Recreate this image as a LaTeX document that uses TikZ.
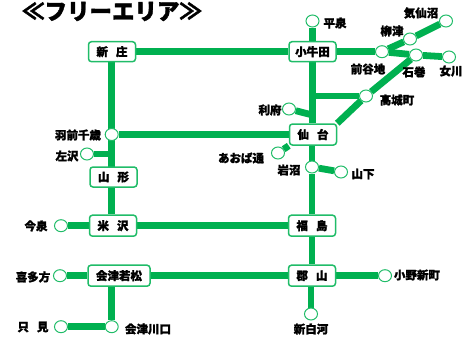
\documentclass[tikz,border=0pt]{standalone}
\usepackage{fontspec}
\setmainfont{Noto Sans CJK JP}[BoldFeatures={FakeBold=1.6}]
\usetikzlibrary{
    shapes.geometric,
    backgrounds
}
\definecolor{linegreen}{HTML}{00B050}
\definecolor{edgegreen}{HTML}{20BC68}
\tikzset{
    hub/.style = {
        rectangle,
        rounded corners=3pt,
        draw=edgegreen,
        line width=1.5pt,
        fill=white,
        minimum width=47pt,
        minimum height=20pt,
        inner sep=0pt,
        font=\fontsize{11.5}{13}\selectfont\bfseries,
        align=center
    },
    stop/.style = {
        ellipse,
        draw=edgegreen,
        line width=1pt,
        fill=white,
        minimum width=13pt,
        minimum height=12pt,
        inner sep=0pt
    },
    stationlabel/.style = {
        inner sep=0pt,
        font=\fontsize{11.5}{13}\selectfont\bfseries
    },
    track/.style = {
        draw=linegreen,
        line width=6.8pt
    }
}

\begin{document}
\begin{tikzpicture}[x=1pt,y=-1pt]
\useasboundingbox (0,0) rectangle (469,340);

\node[stationlabel,font=\fontsize{22.5}{26}\selectfont\bfseries] (title) at (112,11.5) {≪フリーエリア≫};

% main stations
\node[hub] (shinjo) at (112,51.7) {新\hspace{.7em}庄};
\node[hub] (kogota) at (312.5,51.7) {小牛田};
\node[hub,minimum height=21pt] (sendai) at (313,134.5) {仙\hspace{.7em}台};
\node[hub] (yamagata) at (113.5,177) {山\hspace{.7em}形};
\node[hub,minimum height=21pt] (yonezawa) at (113,225.7) {米\hspace{.7em}沢};
\node[hub,minimum height=21pt] (fukushima) at (312,225.7) {福\hspace{.7em}島};
\node[hub,minimum width=62pt,minimum height=21pt] (wakamatsu) at (119,275.7) {会津若松};
\node[hub,minimum height=21pt] (koriyama) at (312,275.7) {郡\hspace{.7em}山};

% small stations
\node[stop] (hiraizumi) at (312.5,21) {};
\node[stop] (maeyachi) at (382,51.7) {};
\node[stop] (yanaizu) at (410,39) {};
\node[stop] (kesennuma) at (446,21) {};
\node[stop] (ishinomaki) at (416,55) {};
\node[stop] (onagawa) at (449,57) {};
\node[stop] (takagi) at (366,96) {};
\node[stop] (rifu) at (289,109) {};
\node[stop] (uzen) at (111.7,134.5) {};
\node[stop] (aterazawa) at (87,154) {};
\node[stop] (aoba) at (278,153) {};
\node[stop] (iwanuma) at (312,167) {};
\node[stop] (yamashita) at (341,172) {};
\node[stop] (imaizumi) at (61,225.7) {};
\node[stop] (kitakata) at (60,275.7) {};
\node[stop] (ono) at (385,275.7) {};
\node[stop] (tadami) at (61,326.7) {};
\node[stop] (kawaguchi) at (111.7,326.7) {};
\node[stop] (shirakawa) at (311,314) {};

% junctions
\coordinate (takagijoin) at (312.5,96);
\coordinate (rifujoin) at (312.5,115);
\coordinate (aterazawajoin) at (111.7,154);

% labels
\node[stationlabel] (hiraizumilabel) at (335,23) {平泉};
\node[stationlabel] (kesennumalabel) at (421,13) {気仙沼};
\node[stationlabel] (yanaizulabel) at (392,31) {柳津};
\node[stationlabel] (maeyachilabel) at (368,69) {前谷地};
\node[stationlabel] (ishinomakilabel) at (414,72) {石巻};
\node[stationlabel] (onagawalabel) at (451,71) {女川};
\node[stationlabel] (takagilabel) at (397,100) {高城町};
\node[stationlabel] (rifulabel) at (270,110) {利府};
\node[stationlabel] (uzenlabel) at (78,135) {羽前千歳};
\node[stationlabel] (aterazawalabel) at (67,156) {左沢};
\node[stationlabel] (aobalabel) at (241,158) {あおば通};
\node[stationlabel] (iwanumalabel) at (289,170) {岩沼};
\node[stationlabel] (yamashitalabel) at (363,174) {山下};
\node[stationlabel] (imaizumilabel) at (36,226) {今泉};
\node[stationlabel] (kitakatalabel) at (33,277) {喜多方};
\node[stationlabel] (onolabel) at (417,275) {小野新町};
\node[stationlabel] (tadamilabel) at (33,327) {只\hspace{.7em}見};
\node[stationlabel] (kawaguchilabel) at (148,329) {会津川口};
\node[stationlabel] (shirakawalabel) at (311,329) {新白河};

\begin{scope}[on background layer]
\draw[track] (shinjo) -- (kogota);
\draw[track] (shinjo.south -| uzen) -- (yonezawa.north -| uzen);
\draw[track] (uzen) -- (sendai);
\draw[track] (aterazawa) -- (aterazawajoin);
\draw[track] (imaizumi) -- (yonezawa);
\draw[track] (yonezawa) -- (fukushima);
\draw[track] (kitakata) -- (wakamatsu);
\draw[track] (wakamatsu) -- (koriyama);
\draw[track] (tadami) -- (kawaguchi);
\draw[track] (wakamatsu.south -| kawaguchi) -- (kawaguchi);
\draw[track] (hiraizumi) -- (kogota);
\draw[track] (kogota) -- (maeyachi);
\draw[track] (maeyachi) -- (yanaizu) -- (kesennuma);
\draw[track] (maeyachi) -- (ishinomaki) -- (onagawa);
\draw[track] (kogota.south) -- (sendai.north -| kogota);
\draw[track] (takagijoin) -- (takagi);
\draw[track] (rifu) -- (rifujoin);
\draw[track] (sendai.north east) -- (takagi) -- (ishinomaki);
\draw[track] (sendai.south west) -- (aoba);
\draw[track] (sendai.south -| iwanuma) -- (iwanuma);
\draw[track] (iwanuma) -- (yamashita);
\draw[track] (iwanuma) -- (fukushima);
\draw[track] (fukushima) -- (koriyama);
\draw[track] (koriyama) -- (ono);
\draw[track] (koriyama.south -| shirakawa) -- (shirakawa);
\end{scope}
\end{tikzpicture}
\end{document}
